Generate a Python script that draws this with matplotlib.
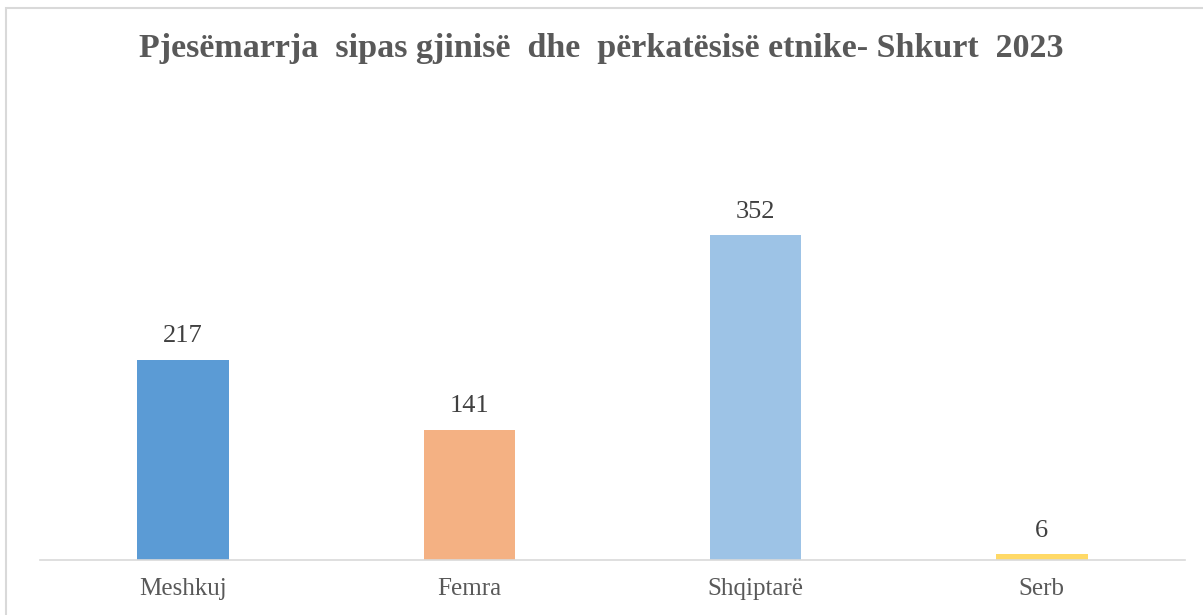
import matplotlib
matplotlib.use("Agg")
import matplotlib.pyplot as plt
from matplotlib.patches import Rectangle

categories = ["Meshkuj", "Femra", "Shqiptarë", "Serb"]
values = [217, 141, 352, 6]
colors = ["#5B9BD5", "#F4B183", "#9DC3E6", "#FFD966"]
title = "Pjesëmarrja  sipas gjinisë  dhe  përkatësisë etnike- Shkurt  2023"

W, H = 1203, 615
fig = plt.figure(figsize=(W/100, H/100), dpi=100)
fig.patch.set_facecolor("white")
fig.add_artist(Rectangle((6/W, -0.1), 1.2, (1 - 8/H) + 0.1, transform=fig.transFigure,
                         facecolor="none", edgecolor="#D9D9D9", linewidth=1.5))

left, right, base = 40, 1185, 560
ymax = 400
ppu = (560 - 235) / 352
top = base - ymax * ppu
ax = fig.add_axes([left/W, (H-base)/H, (right-left)/W, (base-top)/H])
x = range(len(categories))
ax.bar(x, values, width=0.32, color=colors)
ax.set_xlim(-0.5, 3.5)
ax.set_ylim(0, ymax)
for s in ["top", "right", "left"]:
    ax.spines[s].set_visible(False)
ax.spines["bottom"].set_color("#D9D9D9")
ax.spines["bottom"].set_linewidth(1.2)
ax.set_yticks([])
ax.set_xticks(list(x))
ax.set_xticklabels(categories, family="Liberation Serif", fontsize=18, color="#595959")
ax.tick_params(axis="x", length=0, pad=13)
ax.patch.set_alpha(0)
for xi, v in zip(x, values):
    ax.annotate(str(v), (xi, v), xytext=(0, 9), textcoords="offset points",
                ha="center", va="bottom", family="Liberation Serif", fontsize=19, color="#404040")
fig.text(601/W, 1 - 49/H, title, ha="center", va="center", family="Liberation Serif",
         fontsize=24.5, fontweight="bold", color="#595959")
fig.savefig("out.png", dpi=100)
